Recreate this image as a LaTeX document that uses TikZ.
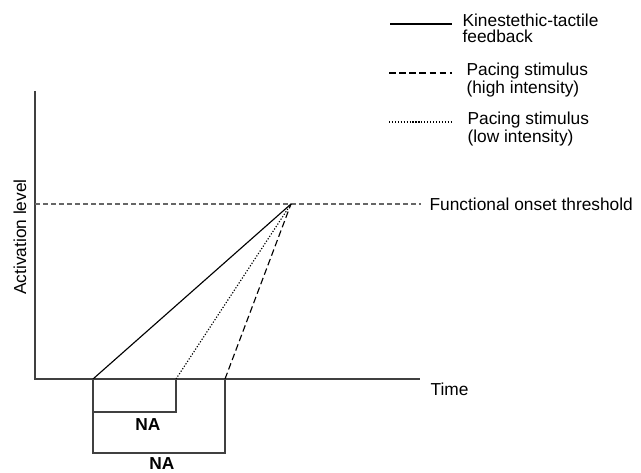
\documentclass[tikz,border=0pt]{standalone}
\usepackage{fontspec}
\setmainfont{Liberation Sans}
\usetikzlibrary{positioning}

\begin{document}
\begin{tikzpicture}[x=0.75pt,y=-0.75pt,font=\fontsize{13}{14.5}\selectfont,line width=0.85pt]

	\tikzset{axis line/.style={draw=black!75}}
	\tikzset{threshold line/.style={draw=black!60, dash pattern=on 3.5pt off 2.5pt}}
	\tikzset{kt line/.style={draw=black}}
	\tikzset{high line/.style={draw=black, dash pattern=on 5pt off 2.6pt}}
	\tikzset{low line/.style={draw=black, dash pattern=on 0.9pt off 1.3pt}}
	\tikzset{na label/.style={font=\fontsize{13}{14.5}\selectfont\bfseries, inner sep=0pt}}
	\tikzset{legend text/.style={align=left, anchor=north west, inner sep=0pt,
			font=\fontsize{13}{12}\selectfont}}

	\useasboundingbox (0,0) rectangle (641,473);

	% axes
	\coordinate (origin) at (35,379);
	\coordinate (ytop) at (35,91);
	\coordinate (xend) at (420,379);
	\draw[axis line] (ytop) -- (origin) -- (xend);
	\node[rotate=90, inner sep=0pt] (ylabel) at (20,237) {Activation level};
	\node[anchor=west, inner sep=0pt] (xlabel) at (430,389) {Time};

	% threshold
	\coordinate (thl) at (35,204);
	\coordinate (thr) at (421,204);
	\draw[threshold line] (thl) -- (thr);
	\node[anchor=west, inner sep=0pt] (thlabel) at (429,204) {Functional onset threshold};

	% onsets
	\coordinate (peak) at (291,204);
	\coordinate (kt) at (93,379);
	\coordinate (low) at (176,379);
	\coordinate (high) at (225,379);
	\draw[kt line] (kt) -- (peak);
	\draw[low line] (low) -- (peak);
	\draw[high line] (high) -- (peak);

	% NA boxes
	\coordinate (lowbox) at (176,412);
	\coordinate (highbox) at (225,453);
	\draw[axis line] (kt) |- (lowbox) -- (low);
	\draw[axis line] (kt) |- (highbox) -- (high);
	\node[na label] (na1) at (148,425) {NA};
	\node[na label] (na2) at (162,464) {NA};

	% legend
	\coordinate (leg1a) at (390,24);
	\coordinate (leg1b) at (452,24);
	\coordinate (leg2a) at (389,73);
	\coordinate (leg2b) at (452,73);
	\coordinate (leg3a) at (389,122);
	\coordinate (leg3b) at (452,122);
	\draw[kt line] (leg1a) -- (leg1b);
	\draw[high line] (leg2a) -- (leg2b);
	\draw[low line] (leg3a) -- (leg3b);
	\node[legend text] (leg1) at (462,13) {Kinestethic-tactile\\feedback};
	\node[legend text] (leg2) at (466,62.5) {Pacing stimulus\\(high intensity)};
	\node[legend text] (leg3) at (467,111.5) {Pacing stimulus\\(low intensity)};

\end{tikzpicture}
\end{document}
